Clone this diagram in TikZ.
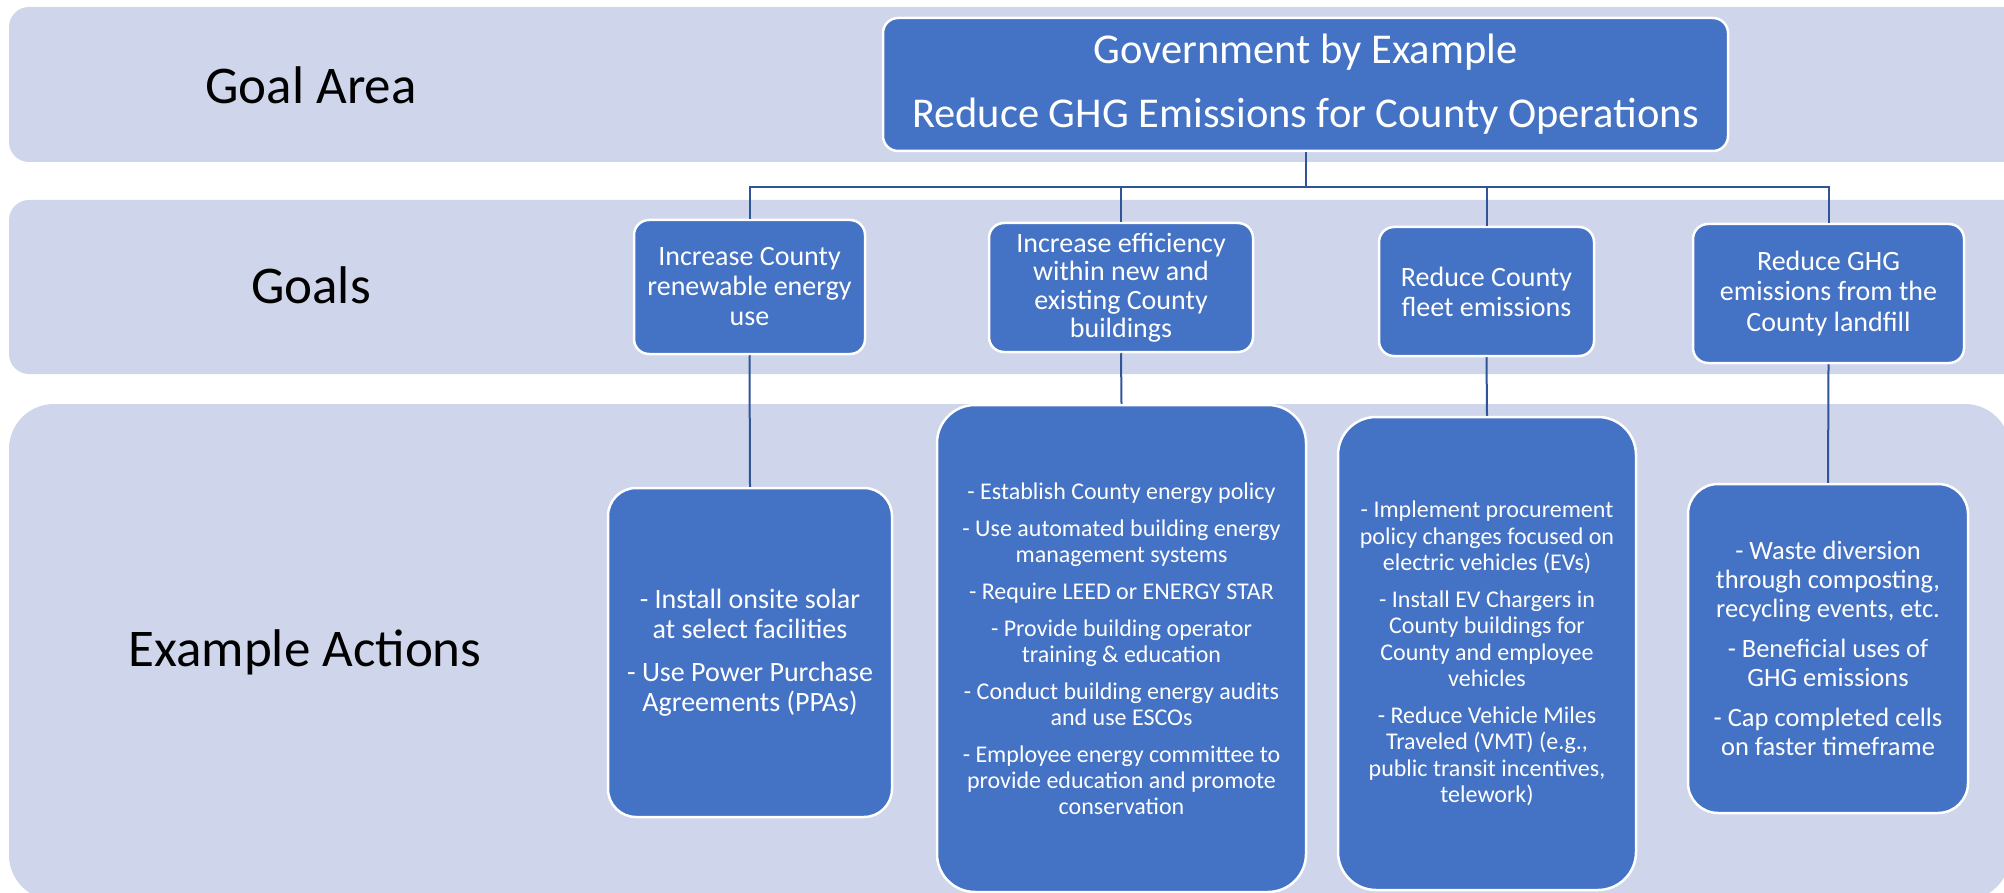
\documentclass[tikz,border=0pt]{standalone}
\usepackage{fontspec}
\setmainfont{Carlito}
\definecolor{bandfill}{HTML}{CFD5EA}
\definecolor{boxfill}{HTML}{4472C4}
\definecolor{linkblue}{HTML}{2F5597}

\begin{document}
\begin{tikzpicture}[x=1pt,y=-1pt,
  rowlabel/.style={font=\fontsize{53pt}{60pt}\selectfont},
  bluebox/.style={draw=white,line width=2.5pt,fill=boxfill,text=white,
    align=center,inner sep=0pt,rounded corners=#1},
  link/.style={draw=linkblue,line width=2pt}]
\useasboundingbox (0,0) rectangle (2004,893);

% background rows
\fill[bandfill,rounded corners=20pt] (9,7) rectangle (2040,162);
\fill[bandfill,rounded corners=20pt] (9,200) rectangle (2040,374);
\fill[bandfill,rounded corners=45pt] (9,404) rectangle (2010,900);

\node[rowlabel] (lblarea) at (311,85) {Goal Area};
\node[rowlabel] (lblgoals) at (311,285) {Goals};
\node[rowlabel] (lblact) at (305,652) {Example Actions};

% goal area
\node[bluebox=15pt,minimum width=845pt,minimum height=133pt,
  font=\fontsize{42.5pt}{48pt}\selectfont] (top) at (1305.5,84.5)
  {Government by Example\\[16pt]Reduce GHG Emissions for County Operations};

% goals
\node[bluebox=15pt,minimum width=231pt,minimum height=134pt,
  font=\fontsize{28pt}{30pt}\selectfont] (g1) at (749.5,287)
  {Increase County\\renewable energy\\use};
\node[bluebox=15pt,minimum width=264pt,minimum height=129pt,
  font=\fontsize{28pt}{28.5pt}\selectfont] (g2) at (1121,287.5)
  {Increase efficiency\\within new and\\existing County\\buildings};
\node[bluebox=15pt,minimum width=215pt,minimum height=129pt,
  font=\fontsize{28pt}{30pt}\selectfont] (g3) at (1486.5,291.5)
  {Reduce County\\fleet emissions};
\node[bluebox=15pt,minimum width=271pt,minimum height=139pt,
  font=\fontsize{28pt}{30.5pt}\selectfont] (g4) at (1828.5,293.5)
  {Reduce GHG\\emissions from the\\County landfill};

% example actions
\node[bluebox=28pt,minimum width=284pt,minimum height=329pt,
  font=\fontsize{28pt}{30pt}\selectfont] (a1) at (750,652.5)
  {- Install onsite solar\\at select facilities\\[13pt]
   - Use Power Purchase\\Agreements (PPAs)};
\node[bluebox=38pt,minimum width=369pt,minimum height=487pt,
  font=\fontsize{24pt}{26pt}\selectfont] (a2) at (1121.5,648.5)
  {- Establish County energy policy\\[11pt]
   - Use automated building energy\\management systems\\[11pt]
   - Require LEED or ENERGY STAR\\[11pt]
   - Provide building operator\\training \& education\\[11pt]
   - Conduct building energy audits\\and use ESCOs\\[11pt]
   - Employee energy committee to\\provide education and promote\\conservation};
\node[bluebox=38pt,minimum width=298pt,minimum height=473pt,
  font=\fontsize{24pt}{26.5pt}\selectfont] (a3) at (1487,653.5)
  {- Implement procurement\\policy changes focused on\\electric vehicles (EVs)\\[10pt]
   - Install EV Chargers in\\County buildings for\\County and employee\\vehicles\\[10pt]
   - Reduce Vehicle Miles\\Traveled (VMT) (e.g.,\\public transit incentives,\\telework)};
\node[bluebox=30pt,minimum width=280pt,minimum height=329pt,
  font=\fontsize{26.5pt}{29pt}\selectfont] (a4) at (1828,648.5)
  {- Waste diversion\\through composting,\\recycling events, etc.\\[11pt]
   - Beneficial uses of\\GHG emissions\\[11pt]
   - Cap completed cells\\on faster timeframe};

% connectors
\coordinate (bus) at (top.south |- 0,187);
\draw[link] (top.south) -- (bus);
\draw[link] (bus) -| (g1.north);
\draw[link] (bus) -| (g2.north);
\draw[link] (bus) -| (g3.north);
\draw[link] (bus) -| (g4.north);

\draw[link] (g1.south) -- (a1.north);
\draw[link] (g2.south) -- (a2.north);
\draw[link] (g3.south) -- (a3.north);
\draw[link] (g4.south) -- (a4.north);
\end{tikzpicture}
\end{document}
